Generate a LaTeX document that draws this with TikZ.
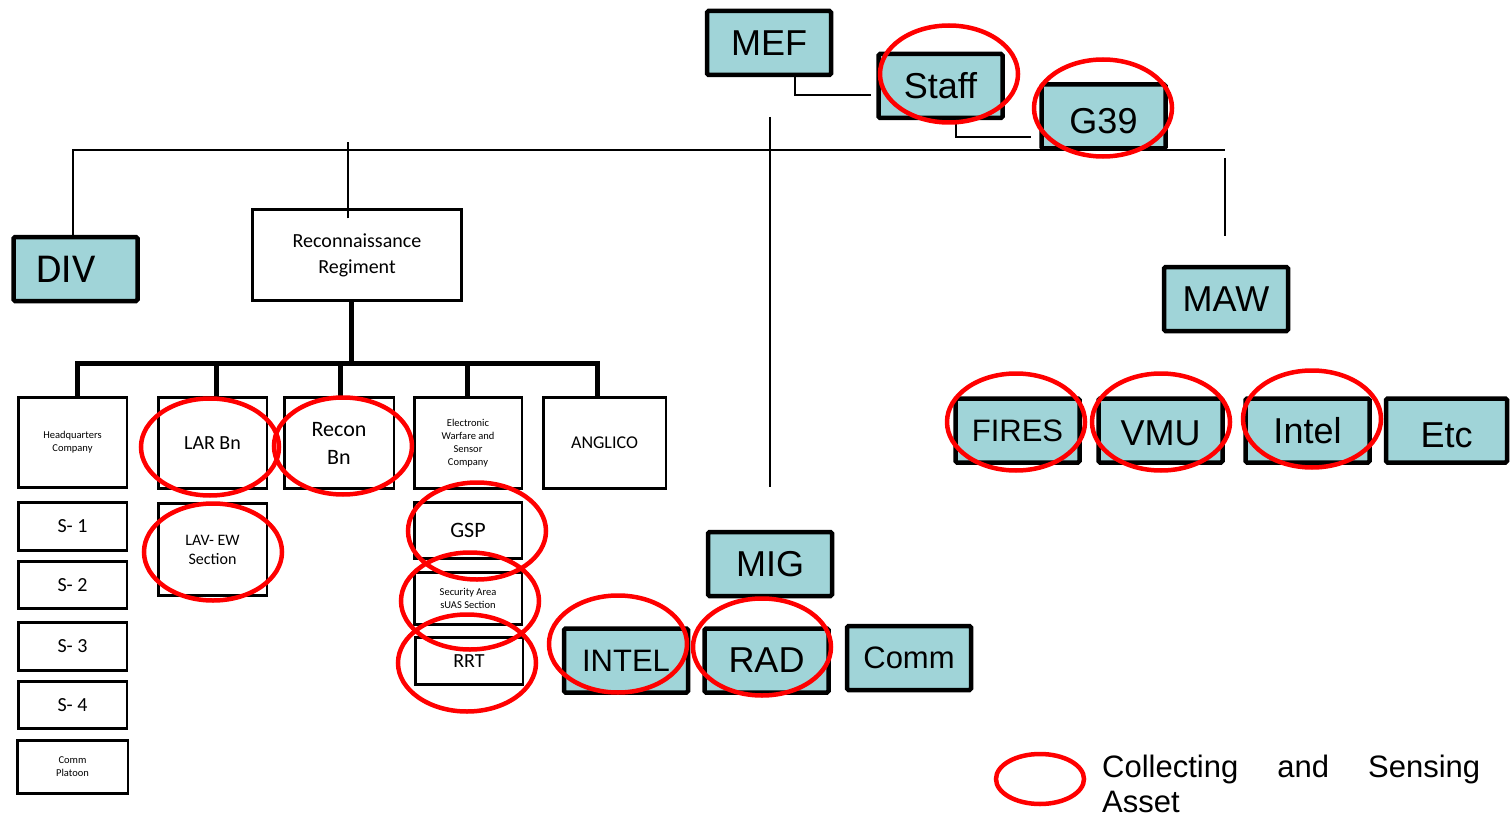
\documentclass[tikz,border=0pt]{standalone}
\usepackage{fontspec}
\setmainfont{Liberation Sans}
\newfontfamily\calib{Carlito}
\definecolor{tealbox}{RGB}{160,212,216}
\newcommand{\fsz}[2]{\fontsize{#1}{#2}\selectfont}

\begin{document}
\begin{tikzpicture}[x=1pt, y=-1pt,
    unit/.style = {draw, line width=4.5pt, fill=tealbox, rounded corners=1.5pt, inner sep=0pt,
                   minimum width=124pt, minimum height=64pt, font=\fsz{36}{40}},
    sub/.style = {draw, line width=2.5pt, fill=white, inner sep=0pt, align=center,
                  minimum width=108.5pt},
    link/.style = {line width=1.5pt},
    bus/.style = {line width=5pt},
    asset/.style = {draw=red, line width=4.5pt}]
    \useasboundingbox (0,0) rectangle (1510,824);

    % teal units
    \node[unit] (mef)   at (769,43)      {MEF};
    \node[unit] (staff) at (940.5,86)    {Staff};
    \node[unit, text height=34pt] (g39) at (1103.5,116.5) {G39};
    \node[unit, font=\calib\fsz{41}{44}, text width=112pt, align=left] (div) at (75.5,269) {\hspace*{17pt}DIV};
    \node[unit] (maw)   at (1226,299)    {MAW};
    \node[unit, font=\fsz{31}{36}] (fires) at (1017.5,430.5) {FIRES};
    \node[unit, text height=30pt] (vmu) at (1160.5,430.5) {VMU};
    \node[unit] (intel) at (1307.5,430.5) {Intel};
    \node[unit, minimum width=121pt, text height=34pt] (etc) at (1446.5,430.5) {Etc};
    \node[unit]  (mig)   at (770,564)     {MIG};
    \node[unit, font=\fsz{31}{36}] (mintel) at (626,660.5) {INTEL};
    \node[unit] (rad)   at (766.5,660.5) {RAD};
    \node[unit, font=\fsz{31}{36}] (comm) at (909,658) {Comm};

    % regiment and its companies
    \node[sub, minimum width=209pt, minimum height=91pt, font=\calib\fsz{20}{26}] (regt) at (357,255) {Reconnaissance\\Regiment};
    \node[sub, minimum height=90pt, font=\calib\fsz{10.5}{13}] (hq) at (72.5,442.5) {Headquarters\\Company};
    \node[sub, minimum height=48pt, font=\calib\fsz{20}{24}] (s1) at (72.5,526.5) {S- 1};
    \node[sub, minimum height=47pt, font=\calib\fsz{20}{24}] (s2) at (72.5,585)   {S- 2};
    \node[sub, minimum height=48pt, font=\calib\fsz{20}{24}] (s3) at (72.5,646.5) {S- 3};
    \node[sub, minimum height=47pt, font=\calib\fsz{20}{24}] (s4) at (72.5,705)   {S- 4};
    \node[sub, minimum width=110.5pt, minimum height=53pt, font=\calib\fsz{10.5}{13}] (cplt) at (72.5,767) {Comm\\Platoon};
    \node[sub, minimum height=91pt, font=\calib\fsz{20}{24}] (lar) at (212.5,443) {LAR Bn};
    \node[sub, minimum height=92pt, font=\calib\fsz{16}{19}] (lavew) at (212.5,549.5) {LAV- EW\\Section};
    \node[sub, minimum width=109.5pt, minimum height=91pt, font=\calib\fsz{22}{28}] (reconbn) at (339,443) {Recon\\Bn};
    \node[sub, minimum width=107.5pt, minimum height=91pt, font=\calib\fsz{10.5}{13}] (ews) at (468,443) {Electronic\\Warfare and\\Sensor\\Company};
    \node[sub, minimum width=107.5pt, minimum height=56pt, font=\calib\fsz{22}{26}] (gsp) at (468,530.5) {GSP};
    \node[sub, minimum width=107.5pt, minimum height=52pt, font=\calib\fsz{10.5}{13}] (suas) at (468,598.5) {Security Area\\sUAS Section};
    \node[sub, minimum width=107.5pt, minimum height=47pt, font=\calib\fsz{20}{24}] (rrt) at (469,661) {RRT};
    \node[sub, minimum width=122.5pt, minimum height=91pt, font=\calib\fsz{18}{22}] (anglico) at (604.5,443) {ANGLICO};

    % thin connectors
    \coordinate (busend) at (1225,150);
    \coordinate (mefa) at (770,117);
    \coordinate (mefb) at (770,487);
    \coordinate (mawa) at (1225,158);
    \coordinate (mawb) at (1225,236);
    \draw[link] ([xshift=26pt]mef.south) |- ([xshift=-5pt,yshift=-9pt]staff.west);
    \draw[link] ([xshift=15.5pt,yshift=-2pt]staff.south) |- ([xshift=-8pt,yshift=-20.5pt]g39.west);
    \draw[link] ([xshift=-2.5pt]div.north) |- (busend);
    \draw[link] ([xshift=-9pt,yshift=-10pt]regt.north) -- ++(0,-76);
    \draw[link] (mefa) -- (mefb);
    \draw[link] (mawa) -- (mawb);

    % thick bus under the regiment
    \draw[bus] ([xshift=-6pt]regt.south) -- ++(0,61);
    \draw[bus] ([xshift=4.5pt]hq.north) -- ++(0,-33) -| ([xshift=-7.5pt]anglico.north);
    \foreach \n/\dx in {lar/3.5, reconbn/1, ews/-1}
        \draw[bus] ([xshift=\dx pt]\n.north) -- ++(0,-33);

    % collecting and sensing assets
    \foreach \cx/\cy in {949/74, 1103/108, 1016/422, 1161/422, 1312/419, 210/447, 343/446,
                         213/552, 477/531, 470/601, 467/663, 618/644, 762/647}
        \draw[asset] (\cx,\cy) ellipse [x radius=69pt, y radius=48.5pt];

    % legend
    \draw[asset] (1040,779) ellipse [x radius=44pt, y radius=25pt];
    \node[anchor=north west, inner sep=0pt, align=left, font=\fsz{31}{35}] (legend) at (1102,755)
        {\makebox[378pt][s]{Collecting and Sensing}\\Asset};
\end{tikzpicture}
\end{document}
